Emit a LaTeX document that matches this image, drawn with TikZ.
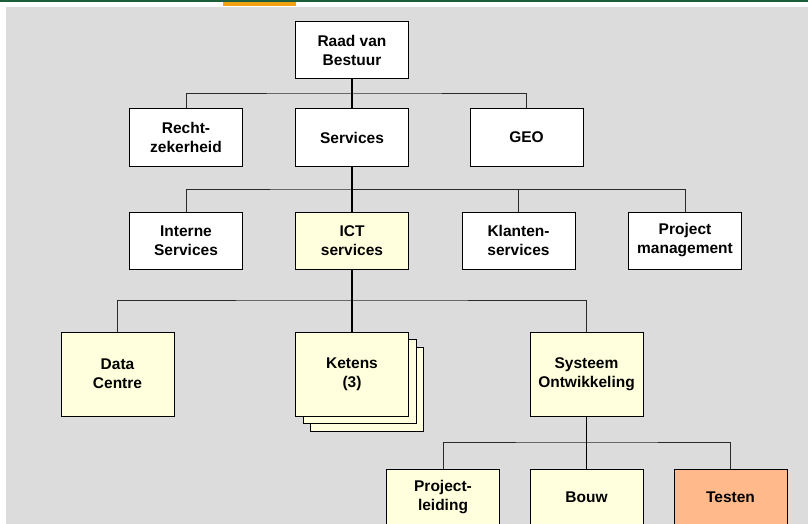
\documentclass[tikz,border=0pt]{standalone}
\usepackage{fontspec}
\setmainfont{Liberation Sans}
\usetikzlibrary{calc}

\definecolor{bggray}{HTML}{DCDCDC}
\definecolor{boxyellow}{HTML}{FFFFDD}
\definecolor{boxpeach}{HTML}{FFB98A}
\definecolor{topgreen}{HTML}{1B5E3B}
\definecolor{toporange}{HTML}{F0A010}
\definecolor{busgray}{HTML}{2A2A2A}

\begin{document}
\begin{tikzpicture}[x = 1pt, y = -1pt,
    box/.style = {shape = rectangle, draw = black, line width = 1pt, fill = white,
        minimum width = 113pt, minimum height = 57pt, inner sep = 0pt, align = center,
        font = \fontsize{15.5}{19}\selectfont\bfseries},
    tallbox/.style = {box, minimum height = 84pt},
    stem/.style = {draw = black, line width = 1.2pt},
    bus/.style = {draw = busgray, line width = 1pt}]
    \useasboundingbox (0,0) rectangle (808,524);
    \clip (0,0) rectangle (808,524);
    % frame
    \fill[white] (0,0) rectangle (808,524);
    \fill[bggray] (6,7) rectangle (808,524);
    \fill[topgreen] (0,0) rectangle (808,1.8);
    \fill[toporange] (223,1.8) rectangle (296,6);
    % top
    \node[box] (raad) at (352,50.5) {Raad van\\Bestuur};
    \node[box] (recht) at (186,137.5) {Recht-\\zekerheid};
    \node[box] (serv) at (352,137.5) {Services};
    \node[box] (geo) at (526.5,137.5) {GEO};
    % services
    \node[box] (interne) at (186,240.5) {Interne\\Services};
    \node[box, fill = boxyellow] (ict) at (352,240.5) {ICT\\services};
    \node[box] (klanten) at (518.5,240.5) {Klanten-\\services};
    \node[box] (projm) at (685,240.5) {Project\\management};
    % ict services
    \node[tallbox, fill = boxyellow] (data) at (117.5,374) {Data\\Centre};
    \node[tallbox, fill = boxyellow] (ketens3) at (367,389) {};
    \node[tallbox, fill = boxyellow] (ketens2) at (359.5,381.5) {};
    \node[tallbox, fill = boxyellow] (ketens) at (352,374) {Ketens\\(3)};
    \node[tallbox, fill = boxyellow] (sys) at (586.5,374) {Systeem\\Ontwikkeling};
    % systeem ontwikkeling
    \node[box, fill = boxyellow] (projl) at (443,497.5) {Project-\\leiding};
    \node[box, fill = boxyellow] (bouw) at (586.5,497.5) {Bouw};
    \node[box, fill = boxpeach] (testen) at (730.5,497.5) {Testen};

    \coordinate (b1) at (352,94);
    \coordinate (b2) at (352,189);
    \coordinate (b3) at (352,300);
    \coordinate (b4) at (586.5,442);

    \draw[bus] (recht.north) |- (b1) -| (geo.north);
    \draw[stem] (raad.south) -- (serv.north);
    \draw[bus] (interne.north) |- (b2) -| (projm.north);
    \draw[bus] (klanten.north) |- (b2);
    \draw[stem] (serv.south) -- (ict.north);
    \draw[bus] (data.north) |- (b3) -| (sys.north);
    \draw[stem] (ict.south) -- (ketens.north);
    \draw[bus] (projl.north) |- (b4) -| (testen.north);
    \draw[stem] (sys.south) -- (bouw.north);
\end{tikzpicture}
\end{document}
